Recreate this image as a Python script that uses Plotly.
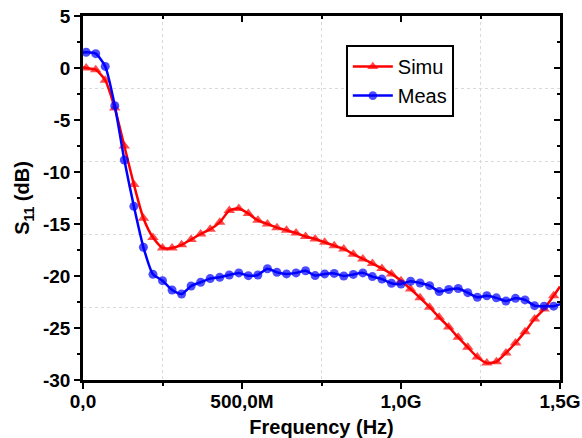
import plotly.graph_objects as go

# Frequency (Hz) of the sampled points: line ends at 0 and 1.5 GHz, markers between
freq_ghz = [0.0] + [0.01 + 0.03 * k for k in range(50)] + [1.5]
freq = [f * 1e9 for f in freq_ghz]

simu = [0.05,
        0.0, -0.16, -1.18, -3.85, -7.5, -11.2, -14.45, -16.3, -17.3, -17.3,
        -17.0, -16.5, -15.96, -15.5, -14.84, -13.7, -13.5, -14.0, -14.65, -15.0,
        -15.35, -15.6, -15.87, -16.2, -16.44, -16.76, -17.08, -17.4, -17.9, -18.36,
        -18.8, -19.27, -19.8, -20.45, -21.25, -22.1, -23.0, -23.97, -24.9, -25.9,
        -26.86, -27.8, -28.37, -28.24, -27.4, -26.44, -25.35, -24.13, -23.17, -21.9,
        -21.0]
meas = [1.5,
        1.51, 1.38, 0.15, -3.62, -8.85, -13.3, -17.24, -19.84, -20.45, -21.35,
        -21.73, -20.96, -20.6, -20.25, -20.13, -19.9, -19.7, -19.97, -19.9, -19.3,
        -19.65, -19.8, -19.7, -19.5, -19.96, -19.8, -19.75, -20.0, -19.85, -19.7,
        -20.06, -20.3, -20.7, -20.77, -20.5, -20.67, -20.93, -21.5, -21.3, -21.2,
        -21.6, -22.05, -21.9, -22.1, -22.4, -22.15, -22.3, -22.85, -22.9, -22.9,
        -22.7]

tri_sizes = [0] + [10] * 50 + [0]
dot_sizes = [0] + [9] * 50 + [0]

x_tickvals = [0, 0.5e9, 1.0e9, 1.5e9]
x_ticktext = ["0,0", "500,0M", "1,0G", "1,5G"]
y_tickvals = [5, 0, -5, -10, -15, -20, -25, -30]
y_ticktext = ["5", "0", "-5", "-10", "-15", "-20", "-25", "-30"]

FONT = "Liberation Sans, Arial, sans-serif"

fig = go.Figure()
fig.add_trace(go.Scatter(
    x=freq, y=simu, name="Simu", mode="lines+markers",
    line=dict(color="#FF0000", width=2.5, shape="spline", smoothing=0.6),
    marker=dict(symbol="triangle-up", size=tri_sizes, color="#FF0000",
                line=dict(width=0)),
))
fig.add_trace(go.Scatter(
    x=freq, y=meas, name="Meas", mode="lines+markers",
    line=dict(color="#0000FF", width=2.5, shape="spline", smoothing=0.6),
    marker=dict(symbol="circle", size=dot_sizes, color="#0000FF",
                line=dict(width=0)),
))
# dummy traces to activate mirror / grid axes
fig.add_trace(go.Scatter(x=[None], y=[None], xaxis="x2", yaxis="y2",
                         showlegend=False, hoverinfo="skip"))
fig.add_trace(go.Scatter(x=[None], y=[None], xaxis="x3", yaxis="y3",
                         showlegend=False, hoverinfo="skip"))

xr = [0, 1.5e9]
yr = [-30, 5]
GRID = "#d9d9d9"

fig.update_layout(
    width=582, height=438,
    margin=dict(l=83, r=22, t=16, b=58, autoexpand=False),
    paper_bgcolor="white", plot_bgcolor="white",
    font=dict(family=FONT, color="black"),
    showlegend=True,
    legend=dict(x=0.551, y=0.92, xanchor="left", yanchor="top",
                bordercolor="black", borderwidth=2, bgcolor="white",
                font=dict(size=20, family=FONT), tracegroupgap=0,
                itemwidth=40),
    xaxis=dict(range=xr, tickvals=x_tickvals, ticktext=x_ticktext,
               showline=True, linecolor="black", linewidth=2.5,
               ticks="outside", ticklen=6, tickwidth=2, tickcolor="black",
               tickfont=dict(size=19, family=FONT, weight="bold"),
               ticklabelstandoff=-4,
               showgrid=False, zeroline=False, automargin=False,
               minor=dict(tick0=0, dtick=0.25e9, ticks="outside", ticklen=3,
                          tickwidth=2, tickcolor="black", showgrid=False),
               title=dict(text="Frequency (Hz)", standoff=10,
                          font=dict(size=20, family=FONT, weight="bold"))),
    xaxis2=dict(range=xr, overlaying="x", side="top", anchor="y",
                tickvals=x_tickvals, showticklabels=False,
                showline=True, linecolor="black", linewidth=2.5,
                ticks="inside", ticklen=6, tickwidth=2, tickcolor="black",
                showgrid=False, zeroline=False, automargin=False,
                minor=dict(tick0=0, dtick=0.25e9, ticks="inside", ticklen=3,
                           tickwidth=2, tickcolor="black", showgrid=False)),
    xaxis3=dict(range=xr, overlaying="x", side="bottom", anchor="y",
                tick0=0.25e9, dtick=0.5e9, showticklabels=False, ticks="",
                showline=False, zeroline=False, automargin=False,
                showgrid=True, gridcolor=GRID, griddash="dot", gridwidth=1),
    yaxis=dict(range=yr, tickvals=y_tickvals, ticktext=y_ticktext,
               showline=True, linecolor="black", linewidth=2.5,
               ticks="outside", ticklen=6, tickwidth=2, tickcolor="black",
               tickfont=dict(size=19, family=FONT, weight="bold"),
               showgrid=False, zeroline=False, automargin=False,
               minor=dict(tick0=0, dtick=2.5, ticks="outside", ticklen=3,
                          tickwidth=2, tickcolor="black", showgrid=False),
               title=dict(text="S<sub>11</sub> (dB)", standoff=8,
                          font=dict(size=20, family=FONT, weight="bold"))),
    yaxis2=dict(range=yr, overlaying="y", side="right", anchor="x",
                tickvals=y_tickvals, showticklabels=False,
                showline=True, linecolor="black", linewidth=2.5,
                ticks="inside", ticklen=6, tickwidth=2, tickcolor="black",
                showgrid=False, zeroline=False, automargin=False,
                minor=dict(tick0=0, dtick=2.5, ticks="inside", ticklen=3,
                           tickwidth=2, tickcolor="black", showgrid=False)),
    yaxis3=dict(range=yr, overlaying="y", side="left", anchor="x",
                tick0=5, dtick=7, showticklabels=False, ticks="",
                showline=False, zeroline=False, automargin=False,
                showgrid=True, gridcolor=GRID, griddash="dot", gridwidth=1),
)

fig.write_html(
    "out.html",
    config={"displayModeBar": False},
    post_script="document.body.style.margin='0px';"
                "document.body.style.overflow='hidden';",
)
